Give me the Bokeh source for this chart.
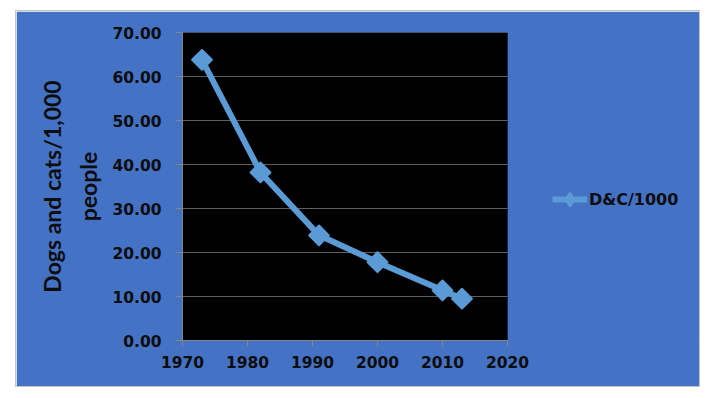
import math
from bokeh.plotting import figure
from bokeh.models import (FixedTicker, NumeralTickFormatter, Range1d, Legend, LegendItem,
                          BoxAnnotation, ColumnDataSource)
from bokeh.embed import file_html
from bokeh.resources import INLINE

# Data
years = [1973, 1982, 1991, 2000, 2010, 2013]
dc_per_1000 = [63.8, 38.2, 23.9, 17.8, 11.4, 9.5]
x_ticks = [1970, 1980, 1990, 2000, 2010, 2020]
y_ticks = [0, 10, 20, 30, 40, 50, 60, 70]
series_name = "D&C/1000"
y_label = "Dogs and cats/1,000\npeople"

BG = "#4472C4"
LINE = "#5B9BD5"
TXT = "#0d0d0d"

x_min, x_max = x_ticks[0], x_ticks[-1]
y_min, y_max = y_ticks[0], y_ticks[-1]

FIG_W, FIG_H = 683, 375
LEFT, TOP, BOTTOM = 166, 21, 46
PLOT_W = 325  # pixel width of the black plot area
frame_w = FIG_W - LEFT
x_right = x_min + (x_max - x_min) * frame_w / PLOT_W  # extend frame so legend sits inside it

p = figure(width=FIG_W, height=FIG_H, output_backend="svg", toolbar_location=None,
           x_range=Range1d(x_min, x_right), y_range=Range1d(y_min, y_max),
           min_border_left=LEFT, min_border_right=0, min_border_top=TOP, min_border_bottom=BOTTOM)
p.margin = (11, 0, 0, 16)
p.styles = {"outline": "1px solid #c4c4c4"}
p.border_fill_color = BG
p.background_fill_color = BG
p.outline_line_color = BG
p.outline_line_width = 1

p.add_layout(BoxAnnotation(left=x_min, right=x_max, bottom=y_min, top=y_max,
                           fill_color="black", fill_alpha=1, line_color="black", line_width=1,
                           level="underlay"))

p.xgrid.grid_line_color = None
p.ygrid.grid_line_color = None
grid_src = ColumnDataSource(dict(x0=[x_min] * len(y_ticks), x1=[x_max] * len(y_ticks), y=y_ticks))
p.segment(x0="x0", y0="y", x1="x1", y1="y", source=grid_src, line_color="#5f5f5f", line_width=1)

p.xaxis.ticker = FixedTicker(ticks=x_ticks)
p.yaxis.ticker = FixedTicker(ticks=y_ticks)
p.yaxis.formatter = NumeralTickFormatter(format="0.00")
p.xaxis.formatter = NumeralTickFormatter(format="0")
p.xaxis.bounds = (x_min, x_max)

for ax in (p.xaxis, p.yaxis):
    ax.axis_line_color = "#868686"
    ax.major_tick_line_color = "#868686"
    ax.major_tick_in = 0
    ax.major_tick_out = 6
    ax.minor_tick_line_color = None
    ax.major_label_text_font = "DejaVu Sans"
    ax.major_label_text_font_style = "bold"
    ax.major_label_text_font_size = "15.5px"
    ax.major_label_text_color = TXT

p.yaxis.major_tick_out = 7
p.yaxis.major_label_standoff = 14
p.xaxis.major_label_standoff = 9

p.yaxis.axis_label = y_label
p.yaxis.axis_label_text_font = "Lato"
p.yaxis.axis_label_text_font_style = "bold"
p.yaxis.axis_label_text_font_size = "23px"
p.yaxis.axis_label_text_color = TXT
p.yaxis.axis_label_text_line_height = 1.3
p.yaxis.axis_label_standoff = 7

r_line = p.line(years, dc_per_1000, line_color=LINE, line_width=6, line_join="round")
# diamond key marker for the legend (hidden beneath the rotated squares in the plot)
r_key = p.scatter(years, dc_per_1000, marker="diamond", size=12,
                  fill_color=LINE, line_color=LINE, line_width=3, line_join="round")
r_pts = p.scatter(years, dc_per_1000, marker="square", size=14, angle=math.pi / 4,
                  fill_color=LINE, line_color=LINE, line_width=2, line_join="round")

legend = Legend(items=[LegendItem(label=series_name, renderers=[r_line, r_key])],
                location=(370, 126), padding=0, margin=0, spacing=0,
                glyph_width=35, glyph_height=30, label_standoff=2,
                background_fill_alpha=0, border_line_alpha=0,
                label_text_font="DejaVu Sans", label_text_font_style="bold",
                label_text_font_size="16px", label_text_color=TXT)
p.add_layout(legend, "center")

open("out.html", "w").write(file_html(p, INLINE))
